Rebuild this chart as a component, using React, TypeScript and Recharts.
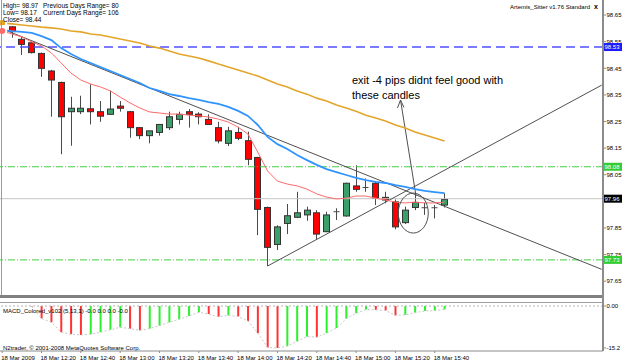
import React from 'react';
import {
  ComposedChart,
  Bar,
  Line,
  XAxis,
  YAxis,
  ReferenceLine,
  ReferenceDot,
  Cell,
} from 'recharts';

// 5 minute bars, 18 Mar 2009 12:00 .. 15:45
const opens = [
  98.605, 98.606, 98.559, 98.546, 98.506, 98.44, 98.397, 98.287, 98.287, 98.298,
  98.287, 98.277, 98.308, 98.287, 98.227, 98.197, 98.209, 98.227, 98.258, 98.287,
  98.278, 98.258, 98.227, 98.168, 98.209, 98.178, 98.115, 97.927, 97.788, 97.867,
  97.89, 97.899, 97.907, 97.836, 97.911, 97.895, 98.008, 98.002, 98.018, 97.965,
  97.948, 97.87, 97.927, 97.926, 97.926, 97.936,
];
const highs = [
  98.608, 98.609, 98.567, 98.55, 98.509, 98.444, 98.4, 98.343, 98.347, 98.39,
  98.327, 98.366, 98.327, 98.29, 98.229, 98.215, 98.24, 98.287, 98.287, 98.297,
  98.285, 98.277, 98.249, 98.23, 98.23, 98.212, 98.117, 97.93, 97.86, 97.94,
  97.986, 97.93, 97.917, 97.911, 97.924, 98.02, 98.086, 98.036, 98.024, 97.986,
  97.957, 97.93, 97.98, 97.945, 97.936, 97.98,
];
const lows = [
  98.592, 98.565, 98.5, 98.506, 98.418, 98.268, 98.127, 98.159, 98.278, 98.239,
  98.249, 98.275, 98.287, 98.189, 98.184, 98.168, 98.197, 98.218, 98.239, 98.227,
  98.239, 98.237, 98.168, 98.158, 98.18, 98.086, 97.823, 97.707, 97.767, 97.827,
  97.887, 97.877, 97.807, 97.834, 97.88, 97.893, 97.986, 97.986, 97.936, 97.943,
  97.845, 97.865, 97.917, 97.899, 97.886, 97.927,
];
const closes = [
  98.596, 98.588, 98.54, 98.509, 98.45, 98.406, 98.268, 98.3, 98.3, 98.287,
  98.27, 98.297, 98.3, 98.227, 98.197, 98.215, 98.239, 98.268, 98.277, 98.277,
  98.268, 98.239, 98.177, 98.215, 98.187, 98.108, 97.92, 97.777, 97.854, 97.896,
  97.907, 97.917, 97.827, 97.899, 97.91, 98.018, 97.995, 98.0, 97.961, 97.955,
  97.854, 97.917, 97.946, 97.925, 97.928, 97.957,
];

// moving averages
const maFast = [
  98.59, 98.579, 98.568, 98.549, 98.534, 98.508, 98.47, 98.432, 98.406, 98.391,
  98.38, 98.365, 98.342, 98.32, 98.301, 98.286, 98.282, 98.278, 98.278, 98.274,
  98.271, 98.267, 98.259, 98.248, 98.229, 98.203, 98.135, 98.064, 98.026, 98.015,
  98.008, 97.996, 97.978, 97.966, 97.959, 97.962, 97.97, 97.97, 97.962, 97.955,
  97.947, 97.944, 97.947, 97.944, 97.944, 97.947,
];
const maMid = [
  98.594, 98.59, 98.587, 98.583, 98.571, 98.556, 98.526, 98.504, 98.485, 98.47,
  98.455, 98.44, 98.425, 98.41, 98.395, 98.376, 98.365, 98.353, 98.346, 98.338,
  98.331, 98.323, 98.316, 98.305, 98.29, 98.271, 98.237, 98.192, 98.165, 98.147,
  98.124, 98.105, 98.087, 98.071, 98.06, 98.049, 98.038, 98.03, 98.023, 98.019,
  98.011, 98.004, 97.996, 97.989, 97.985, 97.981,
];
const maSlow = [
  98.62, 98.617, 98.613, 98.609, 98.605, 98.602, 98.598, 98.59, 98.587, 98.579,
  98.575, 98.568, 98.56, 98.553, 98.545, 98.534, 98.526, 98.515, 98.504, 98.496,
  98.489, 98.478, 98.466, 98.455, 98.444, 98.432, 98.421, 98.406, 98.391, 98.38,
  98.365, 98.353, 98.338, 98.327, 98.312, 98.301, 98.289, 98.274, 98.263, 98.252,
  98.237, 98.226, 98.211, 98.199, 98.188, 98.177,
];

// MACD_Colored (5,13,1)
const macd = [
  null, null, null, -0.2, -4.5, -5.9, -9.5, -10.2, -10.5, -10.2,
  -9.5, -8.6, -7.7, -8.2, -8.8, -8.2, -7.1, -5.9, -4.8, -3.6,
  -2.3, -2.9, -3.9, -3.4, -3.8, -5.4, -9.8, -15.0, -15.2, -14.5,
  -12.8, -11.1, -11.3, -9.8, -8.0, -4.6, -2.6, -1.3, -1.4, -1.6,
  -3.4, -3.2, -2.4, -1.8, -1.7, -1.2,
];
const macdDir = 'rrrrrrrrrggggrrggggggrrgrrrrrgggrgggggrrrggggg'.split('');

const tickBars = [0, 4, 8, 12, 16, 20, 24, 28, 32, 36, 40, 44];
const timeLabels = [
  '18 Mar 2009', '18 Mar 12:20', '18 Mar 12:40', '18 Mar 13:00', '18 Mar 13:20', '18 Mar 13:40',
  '18 Mar 14:00', '18 Mar 14:20', '18 Mar 14:40', '18 Mar 15:00', '18 Mar 15:20', '18 Mar 15:40',
];

// 97.95 sits under the 97.96 bid box, so it is left out
const priceTicks = [98.65, 98.55, 98.45, 98.35, 98.25, 98.15, 98.05, 97.85, 97.75, 97.65];
const levelPrices = [98.53, 98.08, 97.96, 97.73];
const levelColors = ['#1c1cff', '#33cc33', '#000000', '#33cc33'];

const FONT = '"Liberation Sans", Arial, sans-serif';
const X_DOMAIN = [-0.224, 61.12];

const rows = opens.map((o, i) => ({
  i,
  open: o,
  high: highs[i],
  low: lows[i],
  close: closes[i],
  range: [lows[i], highs[i]],
  fast: maFast[i],
  mid: maMid[i],
  slow: maSlow[i],
  macd: macd[i],
}));

const Candle = (props: any) => {
  const { x, y, width, height, payload } = props;
  if (!payload) return null;
  const top = Math.min(y, y + height);
  const bottom = Math.max(y, y + height);
  const k = (bottom - top) / (payload.high - payload.low);
  const py = (v: number) => top + (payload.high - v) * k;
  const cx = Math.round(x + width / 2) + 0.5;
  const yo = py(payload.open);
  const yc = py(payload.close);
  const bt = Math.min(yo, yc);
  const bh = Math.abs(yo - yc);
  const bull = payload.close >= payload.open;
  return (
    <g>
      <line x1={cx} x2={cx} y1={top} y2={bottom} stroke="#4a4a4a" />
      {bh < 1.2 ? (
        <line x1={cx - 3} x2={cx + 3} y1={yo} y2={yo} stroke="#4a4a4a" />
      ) : (
        <rect x={cx - 3} y={bt} width={6} height={bh} fill={bull ? '#3a9f68' : '#ff0000'} stroke="#333" />
      )}
    </g>
  );
};

const PriceTick = (props: any) => {
  const { y, payload } = props;
  const j = levelPrices.indexOf(payload.value);
  const label = payload.value.toFixed(2);
  if (j >= 0) {
    return (
      <g>
        <rect x={603} y={y - 4} width={19} height={8} fill={levelColors[j]} />
        <text x={604.5} y={y + 2.3} fontSize={6} fontFamily={FONT} fill="#fff">{label}</text>
      </g>
    );
  }
  return <text x={606.5} y={y + 2.3} fontSize={6} fontFamily={FONT} fill="#000">{label}</text>;
};

const MacdTick = (props: any) => {
  const { y, payload } = props;
  const label = payload.value === 0 ? '0.00' : payload.value.toFixed(1);
  return <text x={606.5} y={y + 2.3} fontSize={6} fontFamily={FONT} fill="#000">{label}</text>;
};

const TimeTick = (props: any) => {
  const { x, y, payload } = props;
  const j = tickBars.indexOf(payload.value);
  return (
    <text x={x - 1} y={y + 4.5} fontSize={6} fontFamily={FONT} fill="#000" textAnchor="start">
      {timeLabels[j]}
    </text>
  );
};

export default function App() {
  return (
    <div style={{ position: 'absolute', left: 0, top: 0, width: 625, height: 363, background: '#fff', overflow: 'hidden' }}>
      <div style={{ position: 'absolute', left: 0, top: 0 }}>
        <ComposedChart width={625} height={295} data={rows} margin={{ top: 0, right: 0, left: 0, bottom: 0 }}>
          <XAxis type="number" dataKey="i" domain={X_DOMAIN} hide allowDataOverflow />
          <YAxis
            orientation="right"
            width={22}
            domain={[97.598, 98.7068]}
            allowDataOverflow
            ticks={[...priceTicks, ...levelPrices]}
            interval={0}
            tick={<PriceTick />}
            tickSize={3}
            axisLine={{ stroke: '#8c8c8c', strokeWidth: 2 }}
            tickLine={{ stroke: '#8c8c8c' }}
          />
          <ReferenceLine y={98.53} stroke="#5050ff" strokeWidth={1.5} strokeDasharray="9 5" />
          <ReferenceLine y={98.08} stroke="#44cc44" strokeDasharray="7 2 1 2" />
          <ReferenceLine y={97.73} stroke="#44cc44" strokeDasharray="7 2 1 2" />
          <ReferenceLine y={97.96} stroke="#c4c4c4" />
          <ReferenceLine segment={[{ x: -0.22, y: 98.6015 }, { x: 60.99, y: 97.6944 }]} stroke="#505050" />
          <ReferenceLine segment={[{ x: 27, y: 97.707 }, { x: 60.99, y: 98.387 }]} stroke="#505050" />
          <ReferenceLine segment={[{ x: 40.52, y: 98.331 }, { x: 42.1, y: 97.97 }]} stroke="#505050" />
          <ReferenceLine segment={[{ x: 40.52, y: 98.331 }, { x: 40.21, y: 98.301 }]} stroke="#505050" />
          <ReferenceLine segment={[{ x: 40.52, y: 98.331 }, { x: 40.87, y: 98.303 }]} stroke="#505050" />
          <Line type="linear" dataKey="slow" stroke="#e3a52a" strokeWidth={1.6} dot={false} isAnimationActive={false} />
          <Bar dataKey="range" barSize={7} shape={(p: any) => <Candle {...p} />} isAnimationActive={false} />
          <Line type="linear" dataKey="mid" stroke="#3094ff" strokeWidth={1.8} dot={false} isAnimationActive={false} />
          <Line type="linear" dataKey="fast" stroke="#ff6a6a" strokeWidth={1} dot={false} isAnimationActive={false} />
          <ReferenceDot
            x={41.82}
            y={97.906}
            r={1}
            shape={(p: any) => <ellipse cx={p.cx} cy={p.cy} rx={15} ry={20} fill="none" stroke="#505050" />}
          />
        </ComposedChart>
      </div>
      <div style={{ position: 'absolute', left: 0, top: 297 }}>
        <ComposedChart width={625} height={66} data={rows} margin={{ top: 9, right: 0, left: 0, bottom: 0 }}>
          <XAxis
            type="number"
            dataKey="i"
            domain={X_DOMAIN}
            allowDataOverflow
            ticks={tickBars}
            interval={0}
            height={12}
            tickSize={2}
            tick={<TimeTick />}
            axisLine={{ stroke: '#8c8c8c' }}
            tickLine={{ stroke: '#8c8c8c' }}
          />
          <YAxis
            orientation="right"
            width={22}
            domain={[-16.29, 0]}
            allowDataOverflow
            ticks={[0, -15.2]}
            interval={0}
            tick={<MacdTick />}
            tickSize={3}
            axisLine={{ stroke: '#8c8c8c', strokeWidth: 2 }}
            tickLine={{ stroke: '#8c8c8c' }}
          />
          <ReferenceLine y={0} stroke="#b4b4b4" strokeDasharray="2 2" />
          <Bar dataKey="macd" barSize={2} isAnimationActive={false}>
            {rows.map((r, i) => (
              <Cell key={i} fill={macdDir[i] === 'g' ? '#2cf02c' : '#ff3333'} />
            ))}
          </Bar>
          <Line type="linear" dataKey="macd" stroke="#c8c8c8" strokeDasharray="2 2" dot={false} isAnimationActive={false} />
        </ComposedChart>
      </div>
      <svg width={625} height={363} style={{ position: 'absolute', left: 0, top: 0, pointerEvents: 'none' }}>
        <rect x={0} y={295} width={603} height={3} fill="#808080" />
        <rect x={0} y={302} width={603} height={1} fill="#a0a0a0" />
        <line x1={603} x2={603} y1={0} y2={351} stroke="#8c8c8c" strokeWidth={2} />
        <line x1={1.5} x2={1.5} y1={0} y2={295} stroke="#9a9a9a" />
        <g fontFamily={FONT} fontSize={6.5} fill="#000">
          <text x={3} y={8}>High= 98.97</text>
          <text x={43} y={8}>Previous Days Range= 80</text>
          <text x={3} y={15}>Low= 98.17</text>
          <text x={43} y={15}>Current Days Range= 106</text>
          <text x={3} y={22}>Close= 98.44</text>
          <text x={510} y={9} fontSize={6}>Artemis_Sitter v1.76 Standard</text>
          <text x={594} y={9} fontSize={7} fontWeight="bold">x</text>
          <text x={3} y={313} fontSize={6}>MACD_Colored_v102 (5,13,1) -0.0 0.0 0.0 -0.0</text>
          <text x={3} y={350} fontSize={6}>N2trader, © 2001-2008 MetaQuotes Software Corp.</text>
        </g>
        <g fontFamily={FONT} fontSize={11} fill="#000">
          <text x={352} y={84}>exit -4 pips didnt feel good with</text>
          <text x={352} y={99}>these candles</text>
        </g>
      </svg>
    </div>
  );
}
